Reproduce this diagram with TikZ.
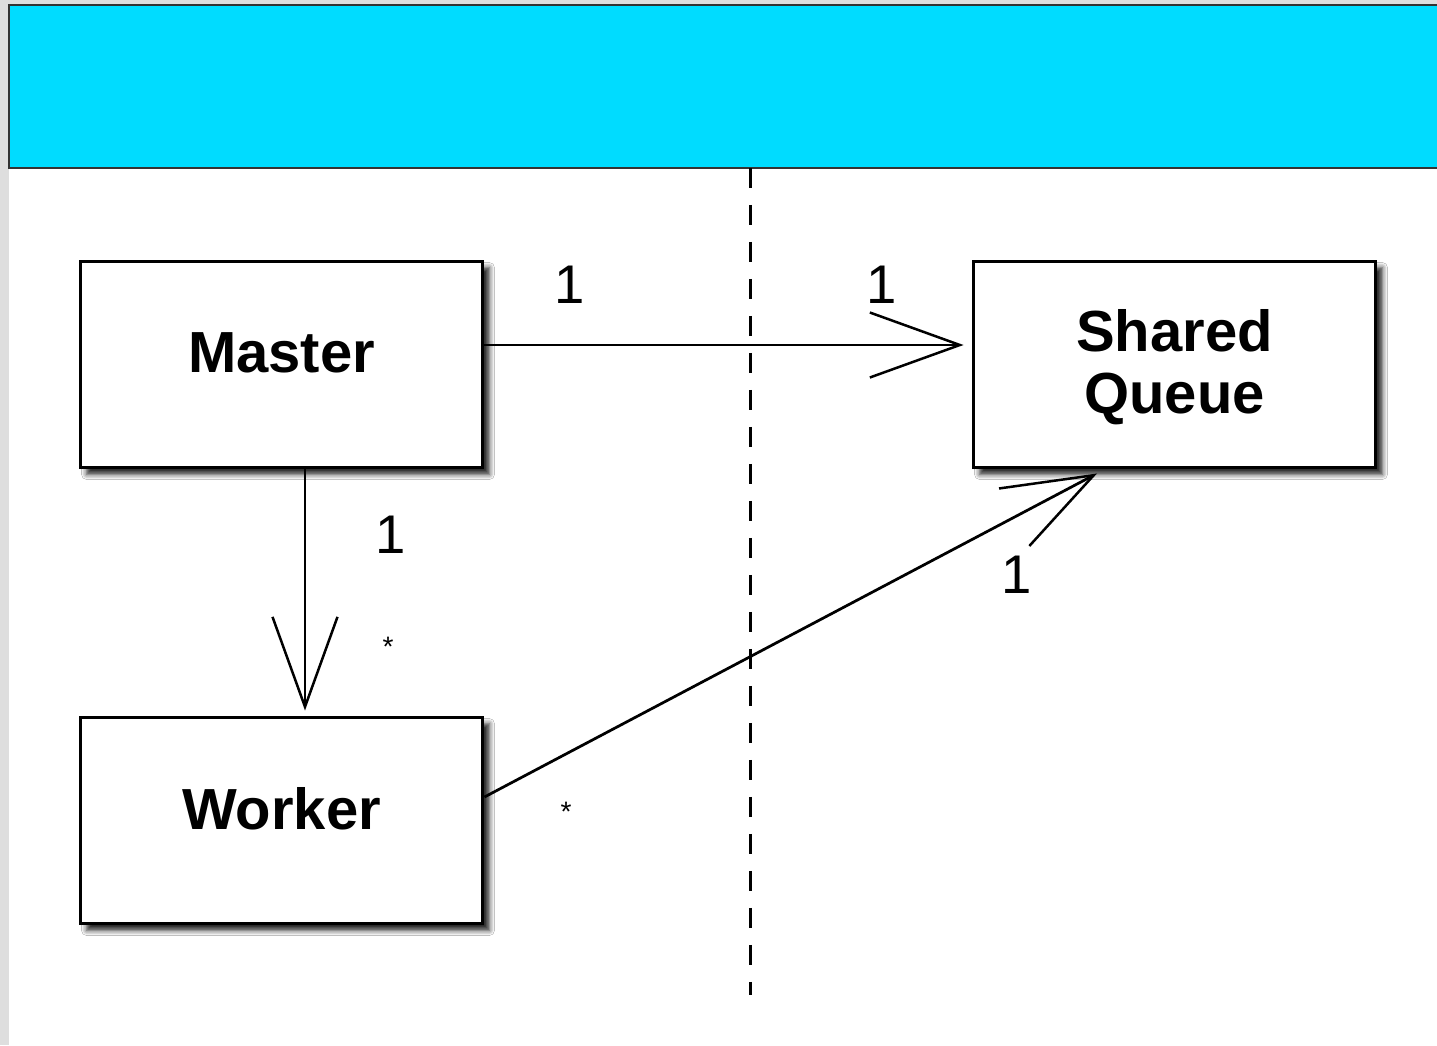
\documentclass[tikz,border=0pt]{standalone}
\usepackage{fontspec}
\setmainfont{Liberation Sans}
\usetikzlibrary{arrows.meta,shadows.blur}
\definecolor{pagegray}{RGB}{222,222,222}
\definecolor{bandcyan}{RGB}{0,220,255}
\begin{document}
\begin{tikzpicture}[x=0.02cm,y=-0.02cm,
  classbox/.style={draw=black,fill=white,line width=0.06cm,
    minimum width=8.06cm,minimum height=4.14cm,inner sep=0pt,
    blur shadow={shadow xshift=0.13cm,shadow yshift=-0.13cm,
      shadow blur radius=0.1cm,shadow opacity=85}},
  classname/.style={font=\fontsize{33}{35}\selectfont\bfseries,align=center,inner sep=0pt},
  mult/.style={font=\fontsize{31}{31}\selectfont,inner sep=0pt},
  many/.style={font=\fontsize{16}{16}\selectfont,inner sep=0pt},
  assoc/.style={line width=0.055cm,
    -{Straight Barb[length=1.8cm,width=1.3cm,line width=0.05cm]}},
  divider/.style={line width=0.06cm,dash pattern=on 0.4cm off 0.34cm},
]
\useasboundingbox (0,0) rectangle (1437,1045);

% page background and title band
\fill[pagegray] (0,0) rectangle (1437,1045);
\fill[white] (9,168) rectangle (1437,1045);
\draw[fill=bandcyan,draw=black!80,line width=0.03cm] (9,5) rectangle (1470,168);

% dashed divider
\coordinate (dtop) at (750,168);
\coordinate (dbot) at (750,995);
\draw[divider] (dtop) -- (dbot);

% classes
\node[classbox] (master) at (281.5,364.5) {};
\node[classbox] (worker) at (281.5,820.5) {};
\node[classbox] (queue) at (1174.5,364.5) {};

\node[classname] (mastername) at (281.5,353) {Master};
\node[classname] (workername) at (281.5,809) {Worker};
\node[classname] (queuename) at (1174.5,367) {Shared\\Queue};

% associations
\draw[assoc] ([yshift=0.39cm]master.east) -- ([yshift=0.39cm,xshift=-0.16cm]queue.west);
\draw[assoc] ([xshift=0.47cm]master.south) -- ([xshift=0.47cm,yshift=0.1cm]worker.north);
\draw[assoc] ([yshift=0.47cm]worker.east) -- ([xshift=-1.55cm,yshift=-0.08cm]queue.south);

% multiplicities
\node[mult] (m1) at (570,285) {1};
\node[mult] (q1) at (882,285) {1};
\node[mult] (w1) at (391,535) {1};
\node[many] (wm) at (388,647) {*};
\node[many] (wq) at (566,812) {*};
\node[mult] (q2) at (1017,575) {1};
\end{tikzpicture}
\end{document}
